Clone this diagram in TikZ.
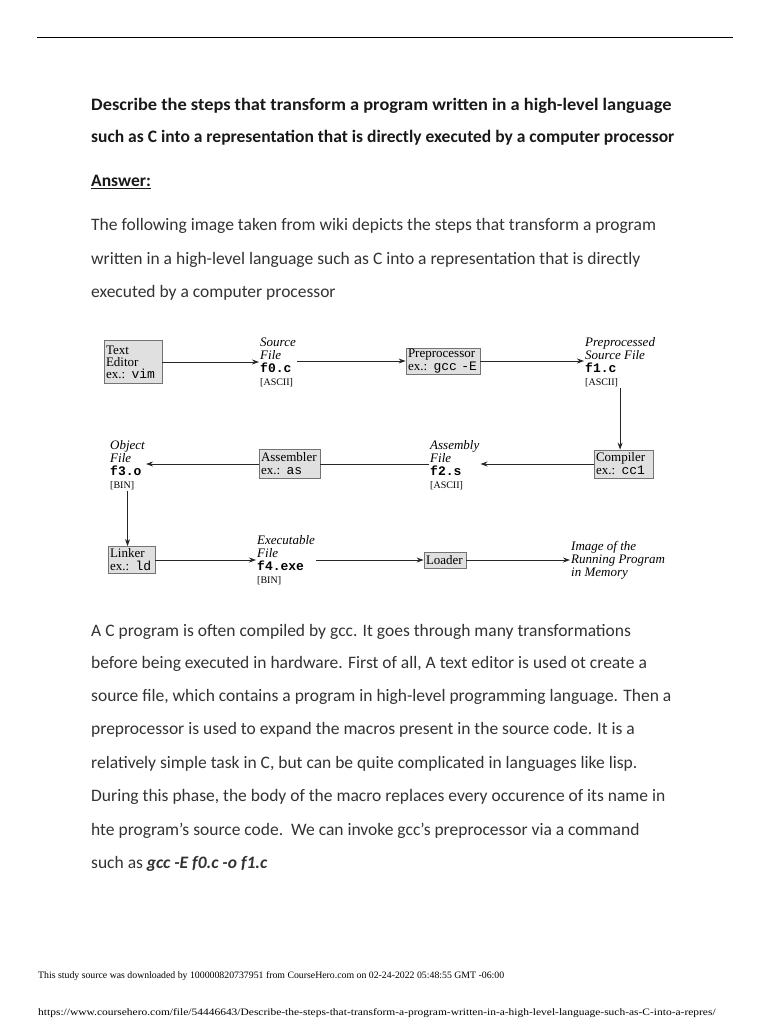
\documentclass[tikz,border=0pt]{standalone}
\usepackage{fontspec}
\setmainfont{Carlito}
\newfontfamily\dser{Liberation Serif}
\newfontfamily\dmono{Liberation Mono}
\newcommand\smsz{\fontsize{10}{13}\selectfont}
\usetikzlibrary{arrows.meta}
\begin{document}
\begin{tikzpicture}[x=1pt,y=-1pt,
 body/.style={anchor=base west, inner sep=0pt, text=black!80, font=\fontsize{17.5}{20}\selectfont},
 head/.style={anchor=base west, inner sep=0pt, text=black!90, font=\bfseries\fontsize{17.5}{20}\selectfont},
 foot/.style={anchor=base west, inner sep=0pt, font=\dser\fontsize{9.8}{11}\selectfont},
 box/.style={draw=black!55, fill=black!12, line width=0.8pt, inner xsep=2pt, inner ysep=0pt, align=left, anchor=center, font=\dser\fontsize{13}{13}\selectfont},
 lab/.style={inner sep=1pt, align=left, font=\dser\fontsize{13}{13}\selectfont},
 conn/.style={line width=0.9pt, draw=black!85, -{Stealth[length=7pt,width=5pt]}},
 seg/.style={line width=0.9pt, draw=black!85}]
\fill[white] (0,0) rectangle (768,1024);
\useasboundingbox (0,0) rectangle (768,1024);
\draw[line width=0.8pt] (37,37) -- (733,37);

\node[head] (h1) at (91,111) {\scalebox{1.05}[1]{Describe the steps that transform a program written in a high-level language}};
\node[head] (h2) at (91,143) {such as C into a representation that is directly executed by a computer processor};
\node[head] (ans) at (91,187) {\underline{Answer:}};
\node[body] (p1) at (91,231) {The following image taken from wiki depicts the steps that transform a program};
\node[body] (p2) at (91,264) {written in a high-level language such as C into a representation that is directly};
\node[body] (p3) at (91,297) {executed by a computer processor};

% diagram
\node[box, text width=54pt, minimum height=43pt] (edit) at (133,362) {Text\\[-1pt]Editor\\[-1pt]ex.: {\dmono vim}};
\node[lab, anchor=west] (src) at (259,362) {\itshape Source\\\itshape File\\{\dmono\bfseries f0.c}\\{\smsz [ASCII]}};
\node[box, text width=70pt, minimum height=26pt] (prep) at (443,361) {Preprocessor\\ex.: {\dmono gcc -E}};
\node[lab, anchor=west] (pp) at (584,362.5) {\itshape Preprocessed\\\itshape Source File\\{\dmono\bfseries f1.c}\\{\smsz [ASCII]}};
\node[box, text width=55pt, minimum height=28pt] (comp) at (623.5,464) {Compiler\\ex.: {\dmono cc1}};
\node[lab, anchor=west] (asf) at (429,465) {\itshape Assembly\\\itshape File\\{\dmono\bfseries f2.s}\\{\smsz [ASCII]}};
\node[box, text width=57pt, minimum height=29pt] (asm) at (289.5,464) {Assembler\\ex.: {\dmono as}};
\node[lab, anchor=west] (obj) at (109,465) {\itshape Object\\\itshape File\\{\dmono\bfseries f3.o}\\{\smsz [BIN]}};
\node[box, text width=43pt, minimum height=27pt] (link) at (131.5,560) {Linker\\ex.: {\dmono ld}};
\node[lab, anchor=west] (exe) at (256,560.5) {\itshape Executable\\\itshape File\\{\dmono\bfseries f4.exe}\\{\smsz [BIN]}};
\node[box, text width=38pt, minimum height=16pt] (load) at (445,560) {Loader};
\node[lab, anchor=west] (img) at (570,560) {\itshape Image of the\\\itshape Running Program\\\itshape in Memory};

\draw[conn] (edit.east) -- (edit.east -| src.west);
\draw[conn] (prep.west -| src.east) -- (prep.west);
\draw[conn] (prep.east) -- (prep.east -| pp.west);
\draw[conn] (pp.south) -- (pp.south |- comp.north);
\draw[conn] (comp.west) -- (comp.west -| asf.east);
\draw[seg] (asm.east -| asf.west) -- (asm.east);
\draw[conn] (asm.west) -- (asm.west -| obj.east);
\draw[conn] (obj.south) -- (obj.south |- link.north);
\draw[conn] (link.east) -- (link.east -| exe.west);
\draw[conn] (load.west -| exe.east) -- (load.west);
\draw[conn] (load.east) -- (load.east -| img.west);

\node[body] (q1) at (91,636) {A C program is often compiled by gcc. It goes through many transformations};
\node[body] (q2) at (91,668) {before being executed in hardware. First of all, A text editor is used ot create a};
\node[body] (q3) at (91,701) {source file, which contains a program in high-level programming language. Then a};
\node[body] (q4) at (91,734) {preprocessor is used to expand the macros present in the source code. It is a};
\node[body] (q5) at (91,768) {relatively simple task in C, but can be quite complicated in languages like lisp.};
\node[body] (q6) at (91,801) {During this phase, the body of the macro replaces every occurence of its name in};
\node[body] (q7) at (91,835) {hte program's source code.\ \ We can invoke gcc's preprocessor via a command};
\node[body] (q8) at (91,868) {such as \textbf{\textit{gcc -E f0.c -o f1.c}}};

\node[foot] (f1) at (38,978) {This study source was downloaded by 100000820737951 from CourseHero.com on 02-24-2022 05:48:55 GMT -06:00};
\node[foot] (f2) at (38,1015) {\scalebox{1.17}[1]{https://www.coursehero.com/file/54446643/Describe-the-steps-that-transform-a-program-written-in-a-high-level-language-such-as-C-into-a-repres/}};
\end{tikzpicture}
\end{document}
